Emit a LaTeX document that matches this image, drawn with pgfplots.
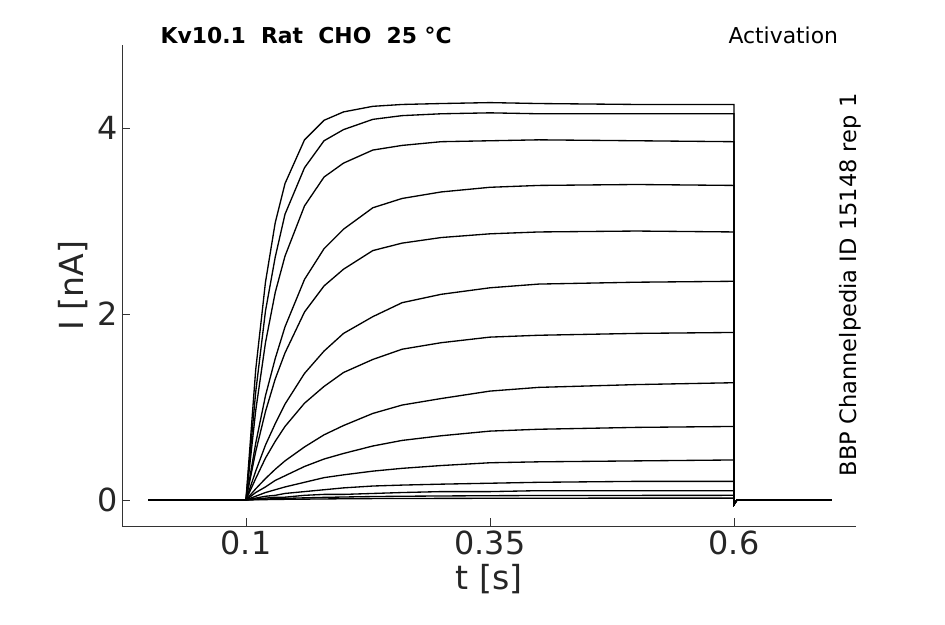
\documentclass[border=0pt]{standalone}
\usepackage{pgfplots}
\usepackage{pgfplotstable}
\pgfplotsset{compat=1.18}
\usepackage{fontspec}
\setmainfont{DejaVu Sans}
\pgfplotstableread{
t a b c d e f g h i j k l m n
0 0 0 0 0 0 0 0 0 0 0 0 0 0 0
0.1 0 0 0 0 0 0 0 0 0 0 0 0 0 0
0.11 1.40 1.16 0.96 0.61 0.52 0.31 0.23 0.12 0.08 0.04 0.02 0.01 0.005 0.002
0.12 2.34 2.03 1.69 1.12 0.95 0.59 0.45 0.23 0.14 0.08 0.04 0.02 0.01 0.004
0.13 2.98 2.61 2.23 1.52 1.30 0.82 0.63 0.33 0.21 0.11 0.05 0.03 0.013 0.005
0.14 3.40 3.07 2.62 1.86 1.58 1.03 0.79 0.42 0.26 0.14 0.07 0.03 0.017 0.007
0.16 3.87 3.57 3.16 2.37 2.02 1.36 1.04 0.57 0.36 0.19 0.09 0.05 0.023 0.009
0.18 4.08 3.86 3.47 2.70 2.30 1.60 1.22 0.70 0.44 0.24 0.11 0.06 0.028 0.011
0.2 4.17 3.98 3.62 2.91 2.48 1.79 1.37 0.80 0.50 0.27 0.13 0.06 0.032 0.013
0.23 4.23 4.09 3.76 3.14 2.68 1.97 1.51 0.93 0.58 0.31 0.15 0.07 0.037 0.015
0.26 4.25 4.13 3.81 3.24 2.76 2.12 1.62 1.02 0.64 0.34 0.16 0.08 0.040 0.016
0.3 4.26 4.15 3.85 3.31 2.82 2.21 1.69 1.09 0.69 0.37 0.17 0.09 0.043 0.017
0.35 4.27 4.16 3.86 3.36 2.86 2.28 1.75 1.17 0.74 0.40 0.18 0.09 0.046 0.018
0.4 4.26 4.15 3.87 3.38 2.88 2.32 1.77 1.21 0.76 0.41 0.19 0.10 0.048 0.019
0.5 4.25 4.15 3.86 3.39 2.89 2.34 1.79 1.24 0.78 0.42 0.20 0.10 0.049 0.020
0.6 4.25 4.15 3.85 3.38 2.88 2.35 1.80 1.26 0.79 0.43 0.20 0.10 0.050 0.020
0.6 -0.05 -0.05 -0.05 -0.05 -0.05 -0.05 -0.05 -0.05 -0.05 -0.05 -0.05 -0.05 -0.05 -0.05
0.603 0 0 0 0 0 0 0 0 0 0 0 0 0 0
0.7 0 0 0 0 0 0 0 0 0 0 0 0 0 0
}\data
\begin{document}
\begin{tikzpicture}
\useasboundingbox (-3.233,-2.597) rectangle (21.81,13.94);
\begin{axis}[at={(0,0)},anchor=south west,scale only axis,
 width=19.45cm,height=12.75cm,
 xmin=-0.027,xmax=0.725,ymin=-0.28,ymax=4.89,
 axis x line*=bottom,axis y line*=left,
 axis line style={draw=black!80},
 xtick={0.1,0.35,0.6},xticklabels={0.1,0.35,0.6},
 ytick={0,2,4},
 tick align=inside,major tick length=0.2cm,
 tick style={black!80},
 /pgf/number format/assume math mode=true,
 ticklabel style={font=\fontsize{24}{28}\selectfont,text=black!85},
 label style={font=\fontsize{25}{30}\selectfont,text=black!85},
 xlabel={t [s]},ylabel={I [nA]},
 cycle list={{black,solid,no marks}},
 every axis plot/.append style={line width=1pt},
 clip=false]
\foreach \c in {a,b,c,d,e,f,g,h,i,j,k,l,m,n}{
 \addplot table[x=t,y=\c]{\data};
}
\end{axis}
\node[anchor=west,font=\bfseries\fontsize{16.5}{19}\selectfont] at (0.9,13.0) {Kv10.1\ \ Rat\ \ CHO\ \ 25 °C};
\node[anchor=east,font=\fontsize{16.5}{19}\selectfont] at (19.1,13.0) {Activation};
\node[rotate=90,font=\fontsize{17}{20}\selectfont] at (19.3,6.39) {BBP Channelpedia ID 15148 rep 1};
\end{tikzpicture}
\end{document}
